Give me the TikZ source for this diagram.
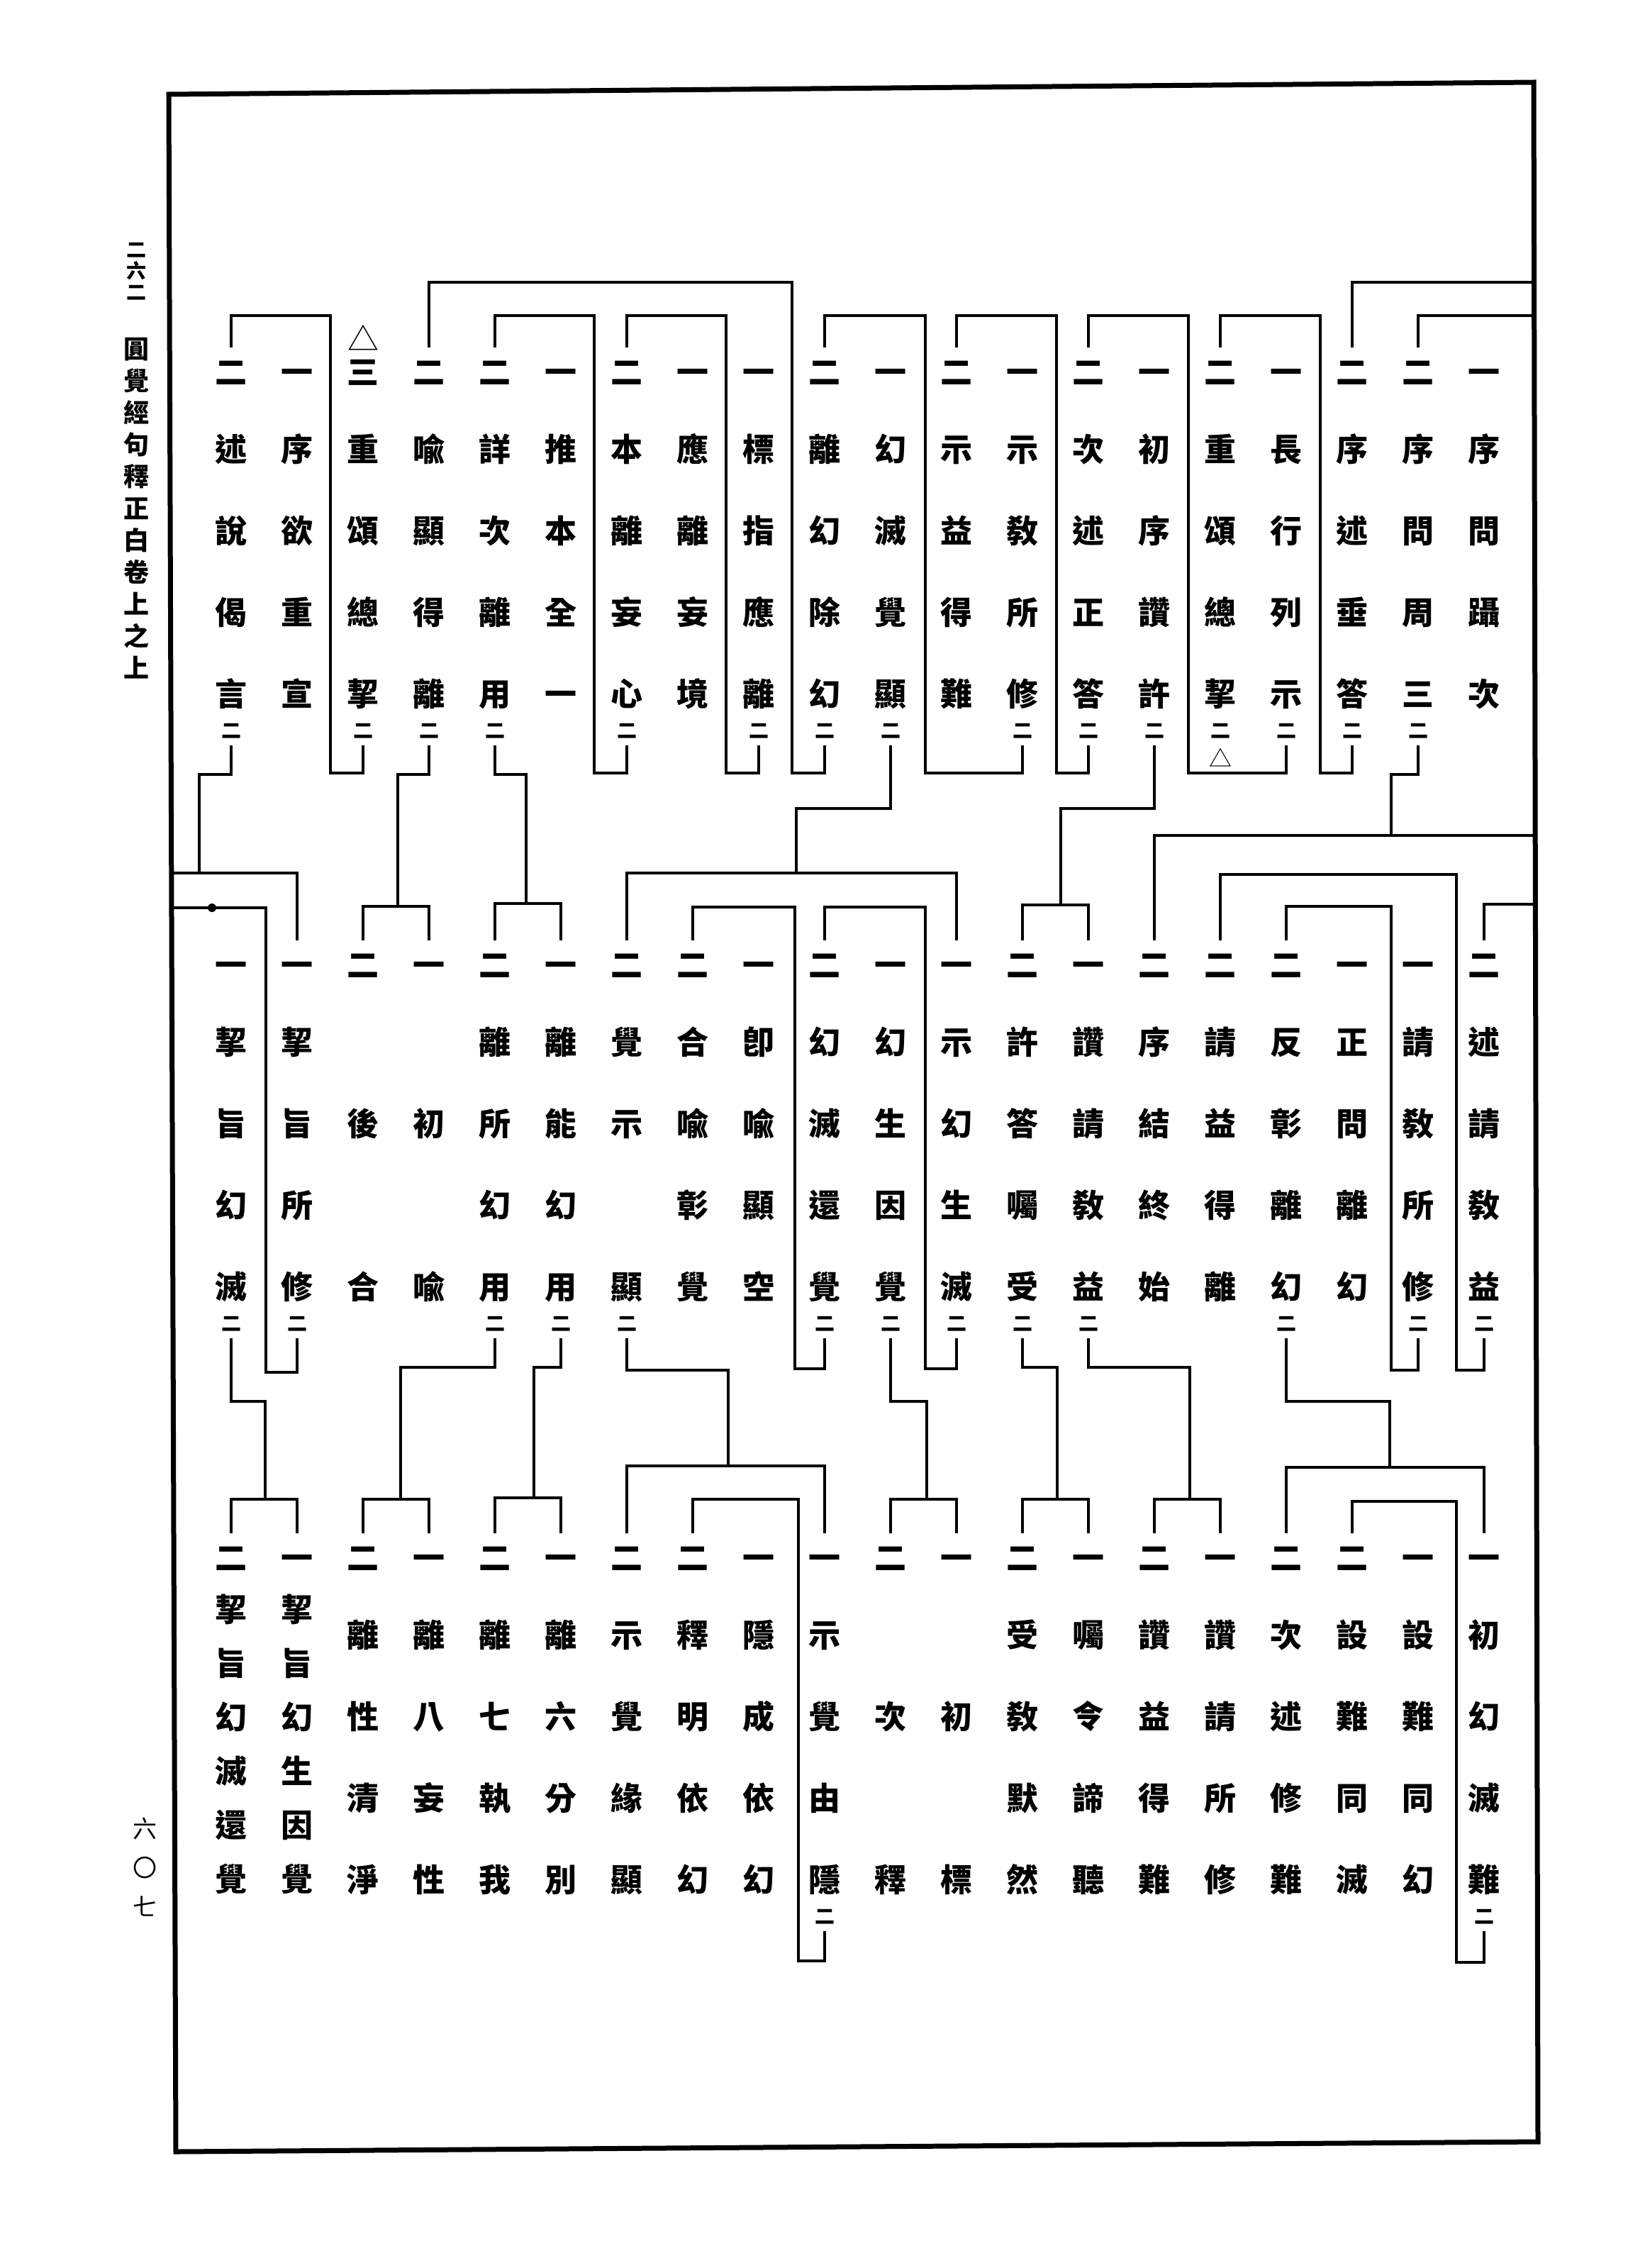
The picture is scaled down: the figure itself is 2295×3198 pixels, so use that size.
\documentclass[tikz,border=0pt]{standalone}
\usepackage{fontspec}
\newfontfamily\cjk{Noto Sans CJK TC}
\newcommand{\hao}[1]{\rule{0pt}{50pt}#1\\[-6pt]}
\newcommand{\kz}{\\[-70pt]{\fontsize{28}{28}\selectfont\rule[-8pt]{0pt}{8pt}二}}
\newcommand{\xiao}[1]{{\fontsize{28}{28}\selectfont #1}}
\tikzset{
  kemu/.style={align=center, inner sep=0pt, anchor=north,
    font=\cjk\bfseries\fontsize{45}{115}\selectfont},
  kemuliu/.style={kemu, font=\cjk\bfseries\fontsize{45}{76}\selectfont},
  sanjiao/.style={inner sep=0pt, font=\cjk\fontsize{44}{44}\selectfont},
  biaoti/.style={align=center, inner sep=0pt, anchor=north,
    font=\cjk\bfseries\fontsize{36}{45}\selectfont},
  yema/.style={align=center, inner sep=0pt, anchor=north,
    font=\cjk\fontsize{34}{55}\selectfont},
}
\begin{document}
\begin{tikzpicture}[x=1pt, y=-1pt, line width=3.5pt]
\useasboundingbox (0,0) rectangle (2295,3198);
\draw[line width=7pt] (238,133) -- (2163,116) -- (2169,3020) -- (248,3034) -- cycle;
\coordinate (zuo1) at (242,1231);
\coordinate (zuo2) at (242,1280);
\coordinate (you1) at (2164,398);
\coordinate (you2) at (2164,445);
\coordinate (you3) at (2166,1178);
\coordinate (you4) at (2166,1275);
%
\node[biaoti] (shuming) at (192,333) {\rule{0pt}{28pt}\xiao{二}\\[-15pt]\xiao{六}\\[-15pt]\xiao{二}\\[38pt]圓\\覺\\經\\句\\釋\\正\\白\\卷\\上\\之\\上};
\node[yema] (yeshu) at (204,2556) {\rule{0pt}{34pt}六\\〇\\七};
%
\node[kemu] (t1) at (326,490) {\hao{二}述\\說\\偈\\言\kz};
\node[kemu] (t2) at (419,490) {\hao{一}序\\欲\\重\\宣};
\node[kemu] (t3) at (512,490) {\hao{三}重\\頌\\總\\挈\kz};
\node[sanjiao] (t3a) at (512,476) {△};
\node[kemu] (t4) at (605,490) {\hao{二}喩\\顯\\得\\離\kz};
\node[kemu] (t5) at (698,490) {\hao{二}詳\\次\\離\\用\kz};
\node[kemu] (t6) at (791,490) {\hao{一}推\\本\\全\\一};
\node[kemu] (t7) at (884,490) {\hao{二}本\\離\\妄\\心\kz};
\node[kemu] (t8) at (977,490) {\hao{一}應\\離\\妄\\境};
\node[kemu] (t9) at (1070,490) {\hao{一}標\\指\\應\\離\kz};
\node[kemu] (t10) at (1163,490) {\hao{二}離\\幻\\除\\幻\kz};
\node[kemu] (t11) at (1256,490) {\hao{一}幻\\滅\\覺\\顯\kz};
\node[kemu] (t12) at (1349,490) {\hao{二}示\\益\\得\\難};
\node[kemu] (t13) at (1442,490) {\hao{一}示\\敎\\所\\修\kz};
\node[kemu] (t14) at (1535,490) {\hao{二}次\\述\\正\\答\kz};
\node[kemu] (t15) at (1628,490) {\hao{一}初\\序\\讚\\許\kz};
\node[kemu] (t16) at (1721,490) {\hao{二}重\\頌\\總\\挈\kz};
\node[sanjiao, font=\cjk\fontsize{32}{32}\selectfont] (t16a) at (1721,1068) {△};
\node[kemu] (t17) at (1814,490) {\hao{一}長\\行\\列\\示\kz};
\node[kemu] (t18) at (1907,490) {\hao{二}序\\述\\垂\\答\kz};
\node[kemu] (t19) at (2000,490) {\hao{二}序\\問\\周\\三\kz};
\node[kemu] (t20) at (2093,490) {\hao{一}序\\問\\躡\\次};
%
\node[kemu] (m1) at (326,1326) {\hao{一}挈\\旨\\幻\\滅\kz};
\node[kemu] (m2) at (419,1326) {\hao{一}挈\\旨\\所\\修\kz};
\node[kemu] (m3) at (512,1326) {\hao{二}\mbox{}\\後\\\mbox{}\\合};
\node[kemu] (m4) at (605,1326) {\hao{一}\mbox{}\\初\\\mbox{}\\喩};
\node[kemu] (m5) at (698,1326) {\hao{二}離\\所\\幻\\用\kz};
\node[kemu] (m6) at (791,1326) {\hao{一}離\\能\\幻\\用\kz};
\node[kemu] (m7) at (884,1326) {\hao{二}覺\\示\\\mbox{}\\顯\kz};
\node[kemu] (m8) at (977,1326) {\hao{二}合\\喩\\彰\\覺};
\node[kemu] (m9) at (1070,1326) {\hao{一}卽\\喩\\顯\\空};
\node[kemu] (m10) at (1163,1326) {\hao{二}幻\\滅\\還\\覺\kz};
\node[kemu] (m11) at (1256,1326) {\hao{一}幻\\生\\因\\覺\kz};
\node[kemu] (m12) at (1349,1326) {\hao{一}示\\幻\\生\\滅\kz};
\node[kemu] (m13) at (1442,1326) {\hao{二}許\\答\\囑\\受\kz};
\node[kemu] (m14) at (1535,1326) {\hao{一}讚\\請\\敎\\益\kz};
\node[kemu] (m15) at (1628,1326) {\hao{二}序\\結\\終\\始};
\node[kemu] (m16) at (1721,1326) {\hao{二}請\\益\\得\\離};
\node[kemu] (m17) at (1814,1326) {\hao{二}反\\彰\\離\\幻\kz};
\node[kemu] (m18) at (1907,1326) {\hao{一}正\\問\\離\\幻};
\node[kemu] (m19) at (2000,1326) {\hao{一}請\\敎\\所\\修\kz};
\node[kemu] (m20) at (2093,1326) {\hao{二}述\\請\\敎\\益\kz};
%
\node[kemuliu] (b1) at (326,2162) {\rule{0pt}{50pt}二\\[-3pt]挈\\旨\\幻\\滅\\還\\覺};
\node[kemuliu] (b2) at (419,2162) {\rule{0pt}{50pt}一\\[-3pt]挈\\旨\\幻\\生\\因\\覺};
\node[kemu] (b3) at (512,2162) {\hao{二}離\\性\\清\\淨};
\node[kemu] (b4) at (605,2162) {\hao{一}離\\八\\妄\\性};
\node[kemu] (b5) at (698,2162) {\hao{二}離\\七\\執\\我};
\node[kemu] (b6) at (791,2162) {\hao{一}離\\六\\分\\別};
\node[kemu] (b7) at (884,2162) {\hao{二}示\\覺\\緣\\顯};
\node[kemu] (b8) at (977,2162) {\hao{二}釋\\明\\依\\幻};
\node[kemu] (b9) at (1070,2162) {\hao{一}隱\\成\\依\\幻};
\node[kemu] (b10) at (1163,2162) {\hao{一}示\\覺\\由\\隱\kz};
\node[kemu] (b11) at (1256,2162) {\hao{二}\mbox{}\\次\\\mbox{}\\釋};
\node[kemu] (b12) at (1349,2162) {\hao{一}\mbox{}\\初\\\mbox{}\\標};
\node[kemu] (b13) at (1442,2162) {\hao{二}受\\敎\\默\\然};
\node[kemu] (b14) at (1535,2162) {\hao{一}囑\\令\\諦\\聽};
\node[kemu] (b15) at (1628,2162) {\hao{二}讚\\益\\得\\難};
\node[kemu] (b16) at (1721,2162) {\hao{一}讚\\請\\所\\修};
\node[kemu] (b17) at (1814,2162) {\hao{二}次\\述\\修\\難};
\node[kemu] (b18) at (1907,2162) {\hao{二}設\\難\\同\\滅};
\node[kemu] (b19) at (2000,2162) {\hao{一}設\\難\\同\\幻};
\node[kemu] (b20) at (2093,2162) {\hao{一}初\\幻\\滅\\難\kz};
%
\draw (t3.south) |- (466,1090) |- (326,445) -- (t1.north);
\draw (t10.south) |- (1117,1090) |- (605,398) -- (t4.north);
\draw (t9.south) |- (1024,1090) |- (884,445) -- (t7.north);
\draw (t7.south) |- (838,1090) |- (698,445) -- (t5.north);
\draw (t13.south) |- (1305,1090) |- (1163,445) -- (t10.north);
\draw (t14.south) |- (1490,1090) |- (1349,445) -- (t12.north);
\draw (t17.south) |- (1676,1090) |- (1535,445) -- (t14.north);
\draw (t18.south) |- (1862,1090) |- (1721,445) -- (t16.north);
\draw (t18.north) |- (you1);
\draw (t19.north) |- (you2);
%
\draw (t1.south) |- (281,1092) -- (281,1231);
\draw (zuo1) -| (m2.north);
\draw (t4.south) |- (561,1092) -- (561,1278);
\draw (m3.north) |- (605,1278) -- (m4.north);
\draw (t5.south) |- (742,1092) -- (742,1274);
\draw (m5.north) |- (791,1274) -- (m6.north);
\draw (t11.south) |- (1123,1140) -- (1123,1231);
\draw (m7.north) |- (1349,1231) -- (m12.north);
\draw (t15.south) |- (1496,1140) -- (1496,1276);
\draw (m13.north) |- (1535,1276) -- (m14.north);
\draw (t19.south) |- (1962,1092) -- (1962,1178);
\draw (m15.north) |- (you3);
\draw (m20.north) |- (you4);
%
\draw (m20.south) |- (2054,1932) |- (1721,1233) -- (m16.north);
\draw (m19.south) |- (1962,1932) |- (1814,1278) -- (m17.north);
\draw (m12.south) |- (1305,1930) |- (1163,1279) -- (m10.north);
\draw (m10.south) |- (1121,1930) |- (977,1279) -- (m8.north);
\draw (m2.south) |- (375,1935) |- (zuo2);
\fill (299,1280) circle (6pt);
%
\draw (m1.south) |- (374,1976) -- (374,2114);
\draw (b1.north) |- (419,2114) -- (b2.north);
\draw (m5.south) |- (565,1928) -- (565,2114);
\draw (b3.north) |- (605,2114) -- (b4.north);
\draw (m6.south) |- (753,1928) -- (753,2112);
\draw (b5.north) |- (791,2112) -- (b6.north);
\draw (m7.south) |- (1027,1932) -- (1027,2067);
\draw (b7.north) |- (1163,2067) -- (b10.north);
\draw (m11.south) |- (1307,1976) -- (1307,2114);
\draw (b11.north) |- (1349,2114) -- (b12.north);
\draw (m13.south) |- (1491,1928) -- (1491,2114);
\draw (b13.north) |- (1535,2114) -- (b14.north);
\draw (m14.south) |- (1678,1928) -- (1678,2114);
\draw (b15.north) |- (1721,2114) -- (b16.north);
\draw (m17.south) |- (1960,1976) -- (1960,2069);
\draw (b17.north) |- (2093,2069) -- (b20.north);
\draw (b10.south) |- (1126,2765) |- (977,2114) -- (b8.north);
\draw (b20.south) |- (2054,2767) |- (1907,2117) -- (b18.north);
\end{tikzpicture}
\end{document}
